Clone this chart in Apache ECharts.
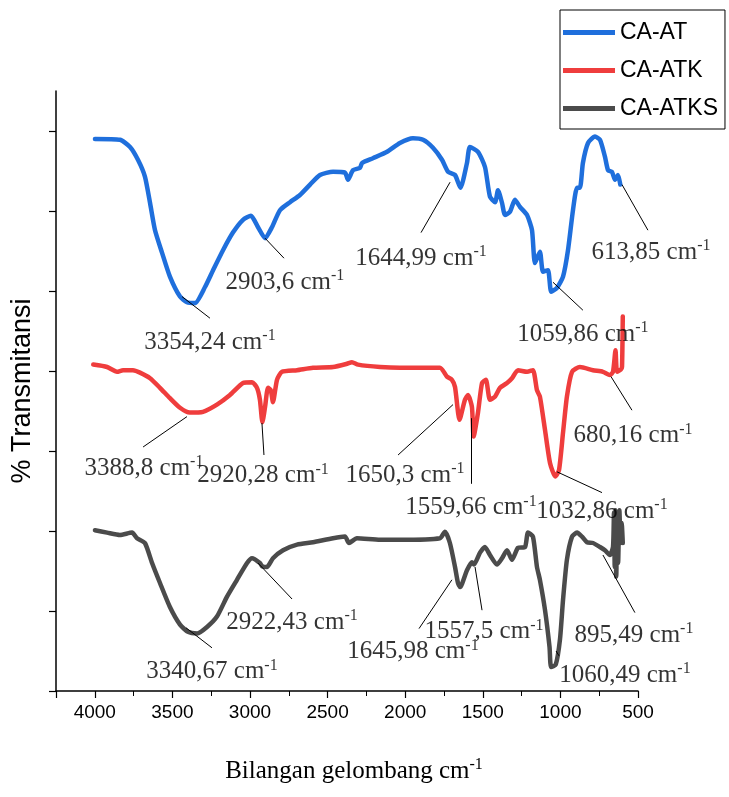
<!DOCTYPE html>
<html><head><meta charset="utf-8">
<script src="https://cdn.jsdelivr.net/npm/echarts@6/dist/echarts.min.js"></script>
<style>html,body{margin:0;padding:0;background:#fff}#c{width:729px;height:797px}</style>
</head><body><div id="c"></div>
<script>
// ---- series names ----
const seriesNames = ['CA-AT', 'CA-ATK', 'CA-ATKS'];

// ---- CA-AT (wavenumber cm-1, offset transmittance) ----
const atWave = [3999,3838,3773,3722,3677,3644,3612,3567,3516,3451,3406,3354,3290,3238,3174,3110,3045,2994,2949,2903,2858,2807,2742,2678,2613,2549,2465,2388,2369,2336,2291,2278,2208,2117,2034,1950,1885,1821,1763,1724,1679,1644,1602,1583,1531,1486,1454,1421,1402,1376,1357,1325,1293,1260,1215,1183,1164,1132,1112,1080,1059,1022,983,951,919,893,874,855,822,777,745,713,693,668,648,629,614];
const atT    = [6.90,6.89,6.80,6.64,6.43,6.10,5.76,5.48,5.18,4.93,4.86,4.85,5.05,5.26,5.51,5.73,5.89,5.94,5.80,5.66,5.80,6.01,6.11,6.20,6.33,6.45,6.49,6.48,6.39,6.51,6.54,6.60,6.66,6.74,6.85,6.91,6.89,6.79,6.64,6.49,6.45,6.29,6.60,6.80,6.74,6.55,6.18,6.11,6.26,6.10,5.95,5.99,6.14,6.05,5.95,5.76,5.35,5.49,5.24,5.26,4.99,5.04,5.18,5.51,6.01,6.29,6.29,6.60,6.85,6.93,6.89,6.68,6.51,6.49,6.39,6.45,6.33];

// ---- CA-ATK ----
const atkWave = [4010,3921,3857,3818,3754,3709,3644,3580,3516,3451,3388,3303,3213,3129,3045,2987,2955,2936,2920,2903,2884,2866,2852,2826,2794,2697,2594,2465,2375,2343,2304,2162,2034,1776,1731,1699,1679,1650,1615,1595,1570,1559,1531,1505,1480,1454,1421,1389,1344,1312,1273,1215,1177,1151,1132,1099,1067,1033,1009,983,958,925,874,790,726,681,661,645,635,610,603,598];
const atkT    = [4.08,4.05,3.99,4.01,4.01,3.98,3.91,3.79,3.66,3.54,3.48,3.49,3.58,3.70,3.85,3.86,3.79,3.64,3.36,3.55,3.79,3.76,3.61,3.89,3.99,4.01,4.04,4.05,4.09,4.11,4.08,4.05,4.04,4.04,3.93,3.89,3.80,3.39,3.64,3.70,3.55,3.18,3.48,3.85,3.89,3.64,3.68,3.79,3.85,3.91,4.01,3.99,4.01,3.76,3.68,3.26,2.85,2.68,2.76,3.23,3.68,3.99,4.05,4.01,3.99,3.95,3.99,4.26,3.99,4.02,4.05,4.68];

// ---- CA-ATKS ----
const atksWave = [3999,3921,3838,3760,3728,3677,3631,3580,3516,3451,3400,3340,3277,3213,3148,3084,3019,2987,2936,2922,2891,2852,2787,2697,2594,2465,2388,2362,2311,2162,2034,1776,1744,1712,1679,1660,1646,1602,1570,1557,1518,1486,1454,1409,1376,1344,1312,1273,1228,1209,1177,1151,1132,1099,1070,1060,1030,1003,983,958,925,893,861,829,790,745,713,681,661,655,650,645,640,634,628,620,612,605,598];
const atksT    = [2.01,1.98,1.95,1.98,1.91,1.85,1.60,1.35,1.05,0.83,0.74,0.72,0.80,0.93,1.18,1.39,1.60,1.66,1.60,1.56,1.55,1.66,1.76,1.83,1.86,1.91,1.93,1.85,1.91,1.89,1.89,1.91,1.99,1.85,1.55,1.35,1.30,1.51,1.61,1.58,1.73,1.80,1.70,1.58,1.66,1.76,1.64,1.79,1.80,1.98,1.93,1.55,1.39,1.01,0.55,0.30,0.33,0.64,1.14,1.64,1.93,1.98,1.93,1.86,1.85,1.80,1.76,1.70,1.80,2.23,1.55,2.26,1.43,2.20,1.60,2.26,1.85,2.10,1.85];

// ---- axis ticks ----
const xTicks = [500,1000,1500,2000,2500,3000,3500,4000];
const yTicks = [0,1,2,3,4,5,6,7];

// ---- peak annotations ----
const annotText = ['3354,24','2903,6','1644,99','1059,86','613,85',
                   '3388,8','2920,28','1650,3','1559,66','680,16','1032,86',
                   '3340,67','2922,43','1645,98','1557,5','895,49','1060,49'];
// label centre and leader line ends (data coordinates: wavenumber, transmittance offset)
const annotLabelAt = [[3258,4.36],[2775,5.11],[1898,5.41],[855,4.46],[416,5.48],
                      [3683,2.78],[2916,2.69],[2001,2.70],[1576,2.29],[532,3.19],[732,2.25],
                      [3245,0.24],[2729,0.86],[1950,0.49],[1492,0.74],[526,0.70],[584,0.20]];
const annotFrom = [[3438,4.93],[2903,5.66],[1711,6.36],[1048,5.11],[603,6.33],
                   [3406,3.43],[2923,3.35],[1692,3.58],[1576,3.41],[674,3.93],[1022,2.74],
                   [3412,0.79],[2949,1.60],[1699,1.39],[1550,1.55],[726,1.70],[1028,0.50]];
const annotTo   = [[3258,4.66],[2781,5.41],[1898,5.73],[855,4.76],[436,5.76],
                   [3689,3.05],[2910,2.95],[2046,2.95],[1576,2.59],[539,3.51],[732,2.48],
                   [3245,0.54],[2729,1.15],[1911,0.78],[1505,1.01],[520,0.98],[1009,0.44]];

const colors = ['#1f6fdc', '#ef3d3d', '#4b4b4b'];
const zip = (w, t) => w.map((x, i) => [x, t[i]]);
const curves = [zip(atWave, atT), zip(atkWave, atkT), zip(atksWave, atksT)];

const serif = "'Liberation Serif', 'Times New Roman', serif";
const sans = "'Liberation Sans', Arial, sans-serif";
const richLabel = {
  a: { fontFamily: serif, fontSize: 25, color: '#000', lineHeight: 29 },
  s: { fontFamily: serif, fontSize: 16, color: '#000', verticalAlign: 'top', lineHeight: 29 }
};

const chart = echarts.init(document.getElementById('c'), null, { renderer: 'canvas' });
chart.setOption({
  animation: false,
  backgroundColor: '#fff',
  grid: { left: 56, right: 91, top: 91, bottom: 106, containLabel: false },
  legend: {
    data: seriesNames, orient: 'vertical', left: 560, top: 10,
    padding: [11, 7, 9, 3], itemGap: 15, itemWidth: 52, itemHeight: 5, icon: 'rect',
    borderColor: '#000', borderWidth: 1, borderRadius: 0,
    textStyle: { fontFamily: sans, fontSize: 23, color: '#000' }
  },
  xAxis: {
    type: 'value', min: 500, max: 4250, interval: 500, inverse: true,
    axisLine: { show: true, onZero: false, lineStyle: { color: '#000', width: 1.5 } },
    axisTick: { show: true, length: 7, lineStyle: { color: '#000', width: 1.2 } },
    minorTick: { show: true, splitNumber: 2, length: 5, lineStyle: { color: '#000', width: 1 } },
    axisLabel: { color: '#000', fontSize: 19, fontFamily: sans, margin: 12, customValues: xTicks,
                 formatter: v => String(v) },
    splitLine: { show: false }, minorSplitLine: { show: false },
    name: '{a|Bilangan gelombang cm}{s|-1}', nameLocation: 'middle', nameGap: 66,
    nameTextStyle: { rich: richLabel, padding: [0, 0, 0, 14] }
  },
  yAxis: {
    type: 'value', min: 0, max: 7.5, interval: 1,
    axisLine: { show: true, onZero: false, lineStyle: { color: '#000', width: 1.5 } },
    axisTick: { show: true, length: 7, customValues: yTicks, lineStyle: { color: '#000', width: 1.2 } },
    axisLabel: { show: false }, splitLine: { show: false },
    name: '% Transmitansi', nameLocation: 'middle', nameGap: 20,
    nameTextStyle: { fontFamily: sans, fontSize: 27, color: '#000' }
  },
  series: [
    ...curves.map((d, i) => ({
      name: seriesNames[i], type: 'line', data: d, symbol: 'none', smooth: 0.2,
      color: colors[i], lineStyle: { width: 4.5, color: colors[i], cap: 'round', join: 'round' },
      z: 2
    })),
    {
      name: 'leaders', type: 'lines', coordinateSystem: 'cartesian2d', silent: true, clip: false,
      data: annotFrom.map((f, i) => ({ coords: [f, annotTo[i]] })),
      lineStyle: { color: '#000', width: 1, opacity: 1 }, z: 3
    },
    {
      name: 'labels', type: 'scatter', silent: true, clip: false, symbolSize: 0,
      data: annotLabelAt.map((p, i) => ({
        value: p,
        label: { formatter: '{a|' + annotText[i] + ' cm}{s|-1}' }
      })),
      label: { show: true, position: 'inside', rich: richLabel },
      z: 4
    }
  ]
});
</script></body></html>
